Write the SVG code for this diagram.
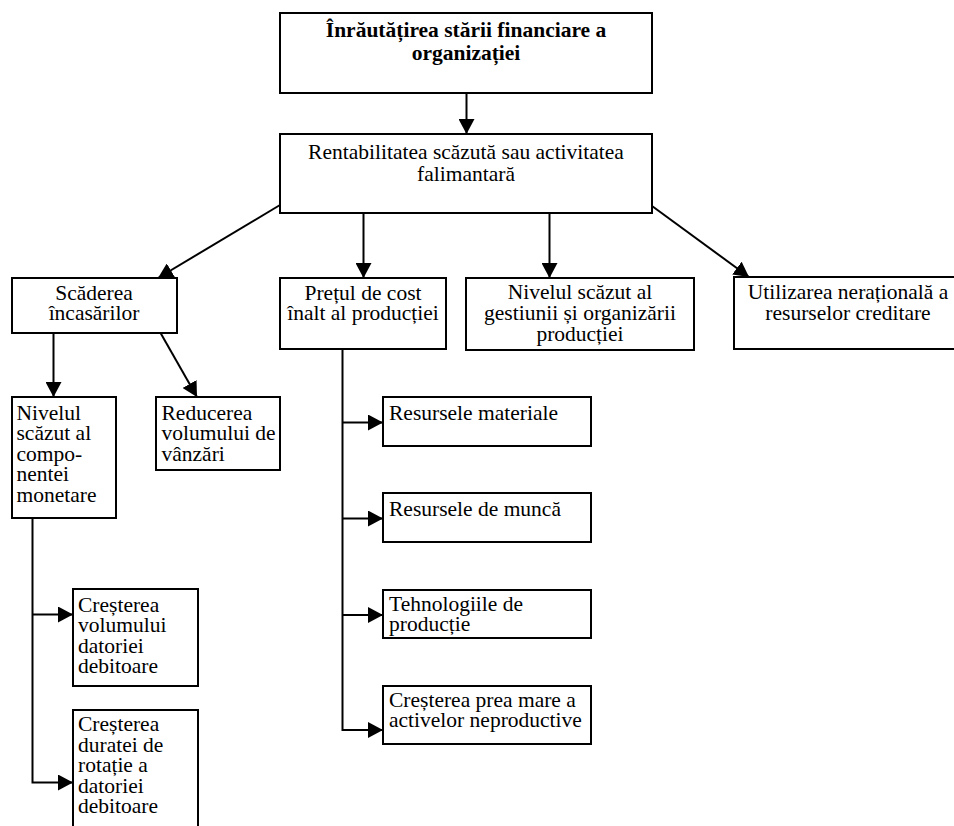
<svg xmlns="http://www.w3.org/2000/svg" width="954" height="826" viewBox="0 0 954 826">
  <style>
    .box { fill: #fff; stroke: #000; stroke-width: 2; }
    .t { font-family: "Liberation Serif", "Times New Roman", serif; font-size: 21.5px; fill: #000; }
    .c { text-anchor: middle; }
    .b { font-weight: bold; }
    .link { fill: none; stroke: #000; stroke-width: 2; }
  </style>
  <defs>
    <marker id="arrow" markerUnits="userSpaceOnUse" markerWidth="16" markerHeight="16" refX="15" refY="8" orient="auto">
      <path d="M0,0 L15,8 L0,16 Z" fill="#000"/>
    </marker>
  </defs>
  <rect width="954" height="826" fill="#fff"/>

  <g id="connectors">
    <line class="link" x1="466.5" y1="93" x2="466.5" y2="134" marker-end="url(#arrow)"/>
    <line class="link" x1="280" y1="205" x2="158" y2="278" marker-end="url(#arrow)"/>
    <line class="link" x1="363.5" y1="206" x2="363.5" y2="278" marker-end="url(#arrow)"/>
    <line class="link" x1="549.5" y1="206" x2="549.5" y2="278" marker-end="url(#arrow)"/>
    <line class="link" x1="652" y1="206" x2="749" y2="277" marker-end="url(#arrow)"/>
    <line class="link" x1="53.5" y1="325" x2="53.5" y2="397" marker-end="url(#arrow)"/>
    <line class="link" x1="156" y1="325" x2="197" y2="397" marker-end="url(#arrow)"/>
    <!-- trunk under the cost-price node -->
    <polyline class="link" points="342.5,349 342.5,730 383,730" marker-end="url(#arrow)"/>
    <line class="link" x1="342.5" y1="422.5" x2="383" y2="422.5" marker-end="url(#arrow)"/>
    <line class="link" x1="342.5" y1="518.5" x2="383" y2="518.5" marker-end="url(#arrow)"/>
    <line class="link" x1="342.5" y1="615" x2="383" y2="615" marker-end="url(#arrow)"/>
    <!-- trunk under the monetary-component node -->
    <polyline class="link" points="32.5,518 32.5,782.5 73,782.5" marker-end="url(#arrow)"/>
    <line class="link" x1="32.5" y1="614.5" x2="73" y2="614.5" marker-end="url(#arrow)"/>
  </g>

  <g id="n-inrautatirea">
    <rect class="box" x="280" y="13" width="372" height="80"/>
    <text class="t c b" x="466" y="37">Înrăutățirea stării financiare a</text>
    <text class="t c b" x="466" y="60">organizației</text>
  </g>

  <g id="n-rentabilitatea">
    <rect class="box" x="280" y="134" width="372" height="79"/>
    <text class="t c" x="466" y="159">Rentabilitatea scăzută sau activitatea</text>
    <text class="t c" x="466" y="181">falimantară</text>
  </g>

  <g id="n-scaderea">
    <rect class="box" x="12" y="278" width="165" height="55"/>
    <text class="t c" x="94" y="299.5">Scăderea</text>
    <text class="t c" x="94" y="320">încasărilor</text>
  </g>

  <g id="n-pretul">
    <rect class="box" x="280" y="278" width="166" height="71"/>
    <text class="t c" x="363" y="299.5">Prețul de cost</text>
    <text class="t c" x="363" y="320">înalt al producției</text>
  </g>

  <g id="n-gestiunea">
    <rect class="box" x="466" y="278" width="228" height="72"/>
    <text class="t c" x="580" y="299">Nivelul scăzut al</text>
    <text class="t c" x="580" y="320">gestiunii și organizării</text>
    <text class="t c" x="580" y="340.5">producției</text>
  </g>

  <g id="n-utilizarea">
    <rect class="box" x="734" y="277" width="228" height="72"/>
    <text class="t c" x="848" y="299">Utilizarea nerațională a</text>
    <text class="t c" x="848" y="320">resurselor creditare</text>
  </g>

  <g id="n-componenta-monetara">
    <rect class="box" x="12" y="397" width="104" height="121"/>
    <text class="t" x="16.5" y="419.5">Nivelul</text>
    <text class="t" x="16.5" y="440">scăzut al</text>
    <text class="t" x="16.5" y="460.5">compo-</text>
    <text class="t" x="16.5" y="481">nentei</text>
    <text class="t" x="16.5" y="501.5">monetare</text>
  </g>

  <g id="n-reducerea">
    <rect class="box" x="156" y="397" width="124" height="73"/>
    <text class="t" x="161.5" y="419.5">Reducerea</text>
    <text class="t" x="161.5" y="440">volumului de</text>
    <text class="t" x="161.5" y="460.5">vânzări</text>
  </g>

  <g id="n-resurse-materiale">
    <rect class="box" x="383" y="397" width="208" height="49"/>
    <text class="t" x="389" y="420">Resursele materiale</text>
  </g>

  <g id="n-resurse-munca">
    <rect class="box" x="383" y="493" width="208" height="49"/>
    <text class="t" x="389" y="515.5">Resursele de muncă</text>
  </g>

  <g id="n-tehnologii">
    <rect class="box" x="383" y="590" width="208" height="48"/>
    <text class="t" x="389" y="611">Tehnologiile de</text>
    <text class="t" x="389" y="630.5">producție</text>
  </g>

  <g id="n-active-neproductive">
    <rect class="box" x="383" y="686" width="208" height="58"/>
    <text class="t" x="389" y="706.5">Creșterea prea mare a</text>
    <text class="t" x="389" y="726.5">activelor neproductive</text>
  </g>

  <g id="n-volum-datorie">
    <rect class="box" x="73" y="589" width="125" height="97"/>
    <text class="t" x="78" y="611.5">Creșterea</text>
    <text class="t" x="78" y="632">volumului</text>
    <text class="t" x="78" y="652.5">datoriei</text>
    <text class="t" x="78" y="673">debitoare</text>
  </g>

  <g id="n-rotatie-datorie">
    <rect class="box" x="73" y="710" width="125" height="130"/>
    <text class="t" x="78" y="731">Creșterea</text>
    <text class="t" x="78" y="751.5">duratei de</text>
    <text class="t" x="78" y="772">rotație a</text>
    <text class="t" x="78" y="792.5">datoriei</text>
    <text class="t" x="78" y="813">debitoare</text>
  </g>
</svg>
